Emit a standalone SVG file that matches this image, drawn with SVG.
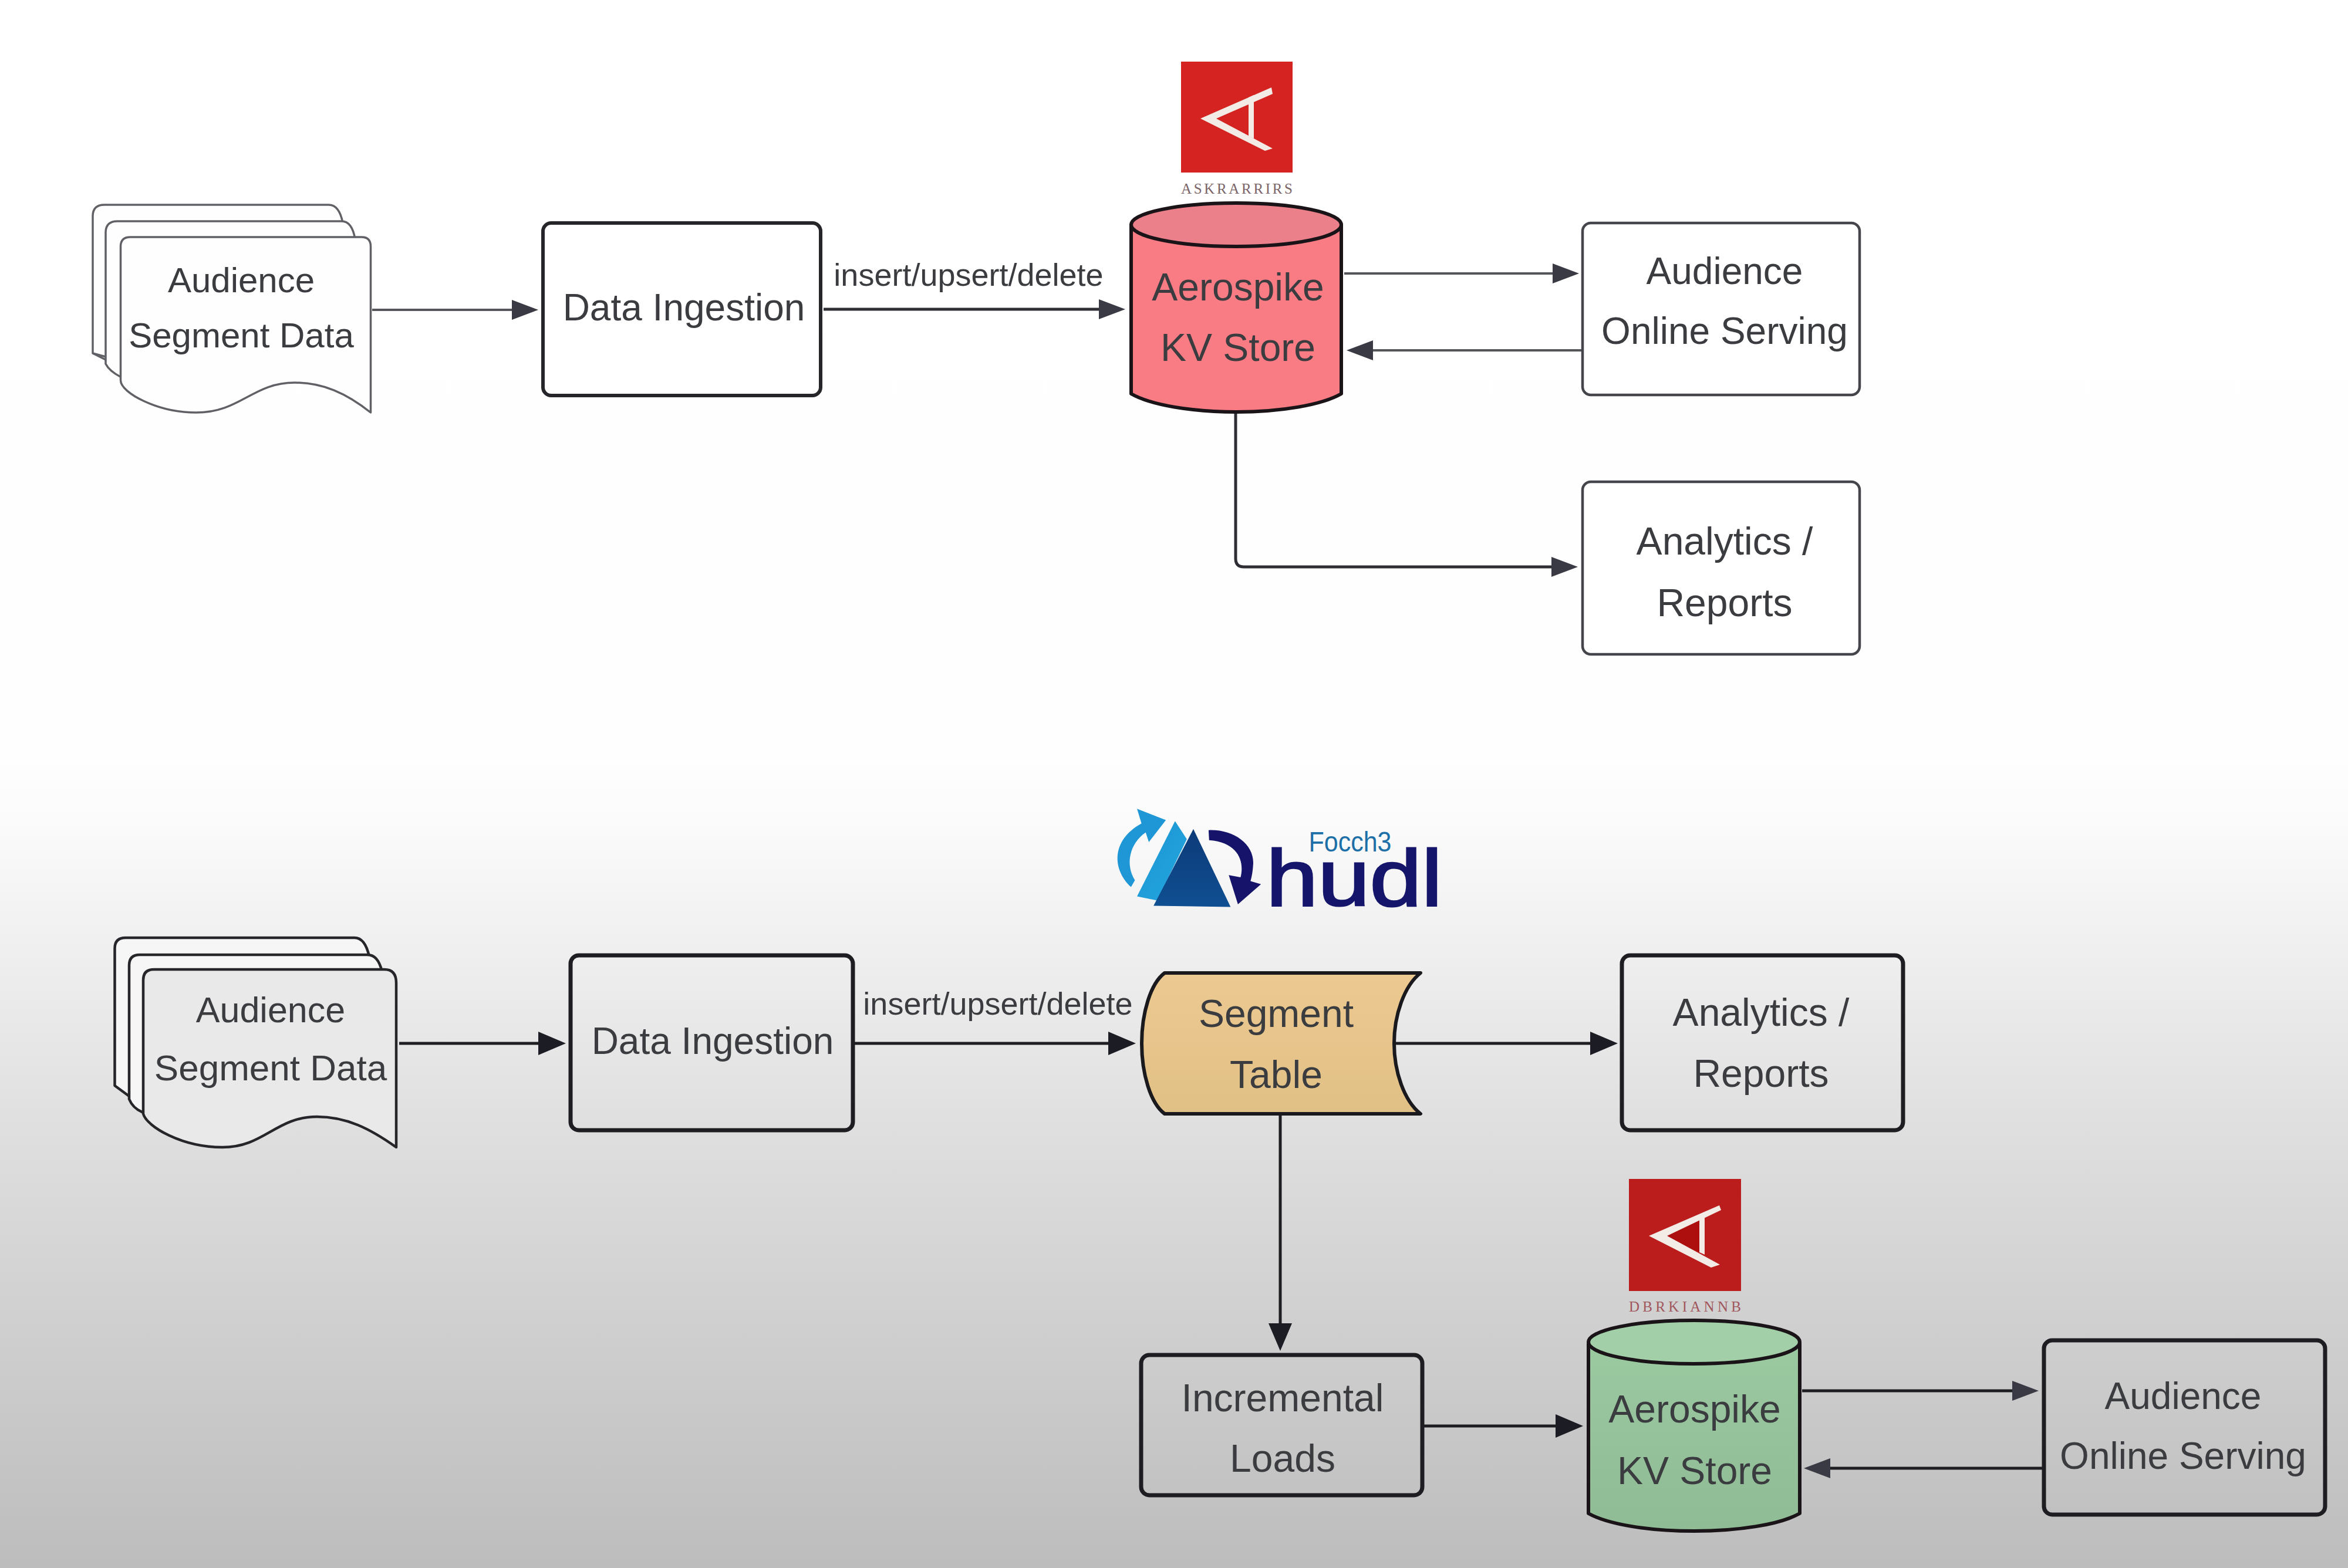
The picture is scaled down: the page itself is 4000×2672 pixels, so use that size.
<svg xmlns="http://www.w3.org/2000/svg" width="4000" height="2672" viewBox="0 0 4000 2672">
<style>
text{font-family:"Liberation Sans",Arial,sans-serif;fill:#3a3c40;text-anchor:middle}
.t60{font-size:60px}.t64{font-size:64px}.t66{font-size:66px}.lbl{font-size:54px}
.logolbl{font-size:25px;fill:#7b6468;text-anchor:start;font-family:"Liberation Serif",serif}
.box{fill:none;stroke:#1e1e22;stroke-width:7}
.boxa{fill:#fff;stroke:#26262a;stroke-width:6}
.boxb{fill:#fff;stroke:#45464b;stroke-width:4.5}
.doc{stroke:#606166;stroke-width:3.5;fill:#fefefe;stroke-linejoin:round}
.docb{stroke:#26262a;stroke-width:4.5;stroke-linejoin:round}
.cyl{stroke:#1a1418;stroke-width:6;stroke-linejoin:round}
.ca{fill:none;stroke:#55565a;stroke-width:4}
.cc{fill:none;stroke:#2e2e34;stroke-width:5}
.cb{fill:none;stroke:#1e1e22;stroke-width:5}
</style>
<defs>
<linearGradient id="bg" gradientUnits="userSpaceOnUse" x1="0" y1="0" x2="0" y2="2672">
<stop offset="0" stop-color="#ffffff"/><stop offset="0.48" stop-color="#fefefe"/><stop offset="0.524" stop-color="#fbfbfb"/><stop offset="0.6" stop-color="#f0f0f0"/><stop offset="0.711" stop-color="#e0e0e0"/><stop offset="0.823" stop-color="#d2d2d2"/><stop offset="0.973" stop-color="#c0c0c0"/><stop offset="1" stop-color="#bdbdbd"/>
</linearGradient>
<linearGradient id="tbl" x1="0" y1="0" x2="0" y2="1"><stop offset="0" stop-color="#ecc990"/><stop offset="1" stop-color="#e1c086"/></linearGradient>
<linearGradient id="grn" x1="0" y1="0" x2="0" y2="1"><stop offset="0" stop-color="#9bc9a0"/><stop offset="1" stop-color="#8fbb95"/></linearGradient>
<linearGradient id="lt" x1="0" y1="0" x2="1" y2="1"><stop offset="0" stop-color="#1d93cf"/><stop offset="1" stop-color="#22a8e2"/></linearGradient>
<linearGradient id="dk" x1="0" y1="0" x2="0" y2="1"><stop offset="0" stop-color="#0d3a78"/><stop offset="1" stop-color="#0f4f92"/></linearGradient>
<marker id="ma" markerUnits="userSpaceOnUse" markerWidth="46" markerHeight="36" refX="0" refY="18" orient="auto"><path d="M0 1 L45 18 L0 35 Z" fill="#3a3a44"/></marker>
<marker id="mb" markerUnits="userSpaceOnUse" markerWidth="48" markerHeight="42" refX="0" refY="21" orient="auto"><path d="M0 1 L47 21 L0 41 Z" fill="#1c1c24"/></marker>
</defs>
<rect width="4000" height="2672" fill="url(#bg)"/>

<g id="connectors">
<path class="ca" d="M634 528 H872" marker-end="url(#ma)"/>
<path class="cc" d="M1403 527 H1872" marker-end="url(#ma)"/>
<path class="ca" d="M2290 466 H2645" marker-end="url(#ma)"/>
<path class="ca" d="M2694 597 H2339" marker-end="url(#ma)"/>
<path class="cc" d="M2105 702 V952 Q2105 966 2119 966 H2643" marker-end="url(#ma)"/>
<path class="cb" d="M680 1778 H917" marker-end="url(#mb)"/>
<path class="cb" d="M1456 1778 H1888" marker-end="url(#mb)"/>
<path class="cb" d="M2375 1778 H2709" marker-end="url(#mb)"/>
<path class="cb" d="M2181 1898 V2255" marker-end="url(#mb)"/>
<path class="cb" d="M2425 2430 H2650" marker-end="url(#mb)"/>
<path class="cb" d="M3070 2370 H3428" marker-end="url(#ma)"/>
<path class="cb" d="M3480 2502 H3118" marker-end="url(#ma)"/>
</g>

<g id="top-audience-segment-data">
<path class="doc" d="M158 602 V368 Q158 349 178 349 H560 Q578 349 584 380 V420 H300 V640 L158 602 Z"/>
<path class="doc" d="M158 602 L180 613"/>
<path class="doc" d="M180 620 V396 Q180 377 200 377 H582 Q600 377 605 408 V450 H300 V650 L205 642 Q186 632 180 620 Z"/>
<path class="doc" d="M205.500 648 V420 Q205.500 404 222 404 H616 Q631.500 404 631.500 420 V703 C590 670 550 652 502 652 C430 652 410 703 334 703 C270 703 205.500 670 205.500 648 Z"/>
<text class="t60" x="411" y="498">Audience</text>
<text class="t60" x="411" y="592">Segment Data</text>
</g>

<g id="top-data-ingestion">
<rect class="boxa" x="925" y="380" width="473" height="294" rx="14"/>
<text class="t64" x="1165" y="546">Data Ingestion</text>
</g>

<text id="top-edge-label" class="lbl" x="1650" y="487">insert/upsert/delete</text>

<g id="top-aerospike-logo">
<rect x="2012" y="105" width="190" height="189" fill="#d42320"/>
<path fill="#f2ebe6" d="M2045 202 L2166 149 L2168 160 L2072 202 L2168 253 L2155 257 Z"/>
<path fill="#f2ebe6" d="M2127 166 L2136 162 V236 L2127 232 Z"/>
<text class="logolbl" x="2012" y="330" textLength="190" lengthAdjust="spacing">ASKRARRIRS</text>
</g>

<g id="top-aerospike-kv-store">
<path class="cyl" fill="#f97b83" d="M1927 383 V671 C1960 690 2030 702 2106 702 C2182 702 2252 690 2285 671 V383 Z"/>
<ellipse class="cyl" fill="#ec808a" cx="2106" cy="383" rx="179" ry="37"/>
<text class="t66" x="2109" y="512">Aerospike</text>
<text class="t66" x="2109" y="615">KV Store</text>
</g>

<g id="top-audience-online-serving">
<rect class="boxb" x="2696" y="380" width="472" height="293" rx="14"/>
<text class="t64" x="2938" y="484">Audience</text>
<text class="t64" x="2938" y="586">Online Serving</text>
</g>

<g id="top-analytics-reports">
<rect class="boxb" x="2696" y="821" width="472" height="294" rx="14"/>
<text class="t66" x="2938" y="945">Analytics /</text>
<text class="t66" x="2938" y="1050">Reports</text>
</g>

<g id="hudi-logo">
<g transform="translate(1850 1340) scale(0.4464 0.3827)">
<path fill="#1f97d6" d="M172 448 C100 370 95 240 212 165 L195 100 L305 150 L240 248 L228 205 C165 255 150 350 187 418 Z"/>
<path fill="url(#lt)" d="M340 155 L385 235 L272 508 L195 490 Z"/>
<path fill="url(#dk)" d="M410 190 L552 537 L258 532 Z"/>
<path fill="#15136a" d="M468 195 C565 190 645 260 638 350 C636 385 632 405 628 422 L668 436 L580 525 L545 395 L590 405 C605 340 585 250 470 240 Z"/>
</g>
<text x="2307" y="1543" font-size="136" stroke="#15166b" stroke-width="3" textLength="300" lengthAdjust="spacingAndGlyphs" style="fill:#15166b">hudl</text>
<text x="2300" y="1451" font-size="49" textLength="141" lengthAdjust="spacingAndGlyphs" style="fill:#1d6fa8">Focch3</text>
</g>

<g id="bottom-audience-segment-data">
<path class="docb" fill="#f6f6f6" d="M195.500 1850 V1616 Q195.500 1598 214 1598 H604 Q622 1598 629 1630 V1670 H300 V1890 L220 1868 L195.500 1850 Z"/>
<path class="docb" fill="#f6f6f6" d="M220 1873 V1645 Q220 1627 238 1627 H626 Q644 1627 650.600 1655 V1700 H300 V1900 L242 1895 Q226 1888 220 1873 Z"/>
<path class="docb" fill="#e9e9e9" d="M244 1898 V1670 Q244 1652 262 1652 H655 Q675 1652 675 1675 V1955 C630 1923 590 1903 540 1903 C470 1903 450 1955 379 1955 C310 1955 250 1920 244 1898 Z"/>
<text class="t60" x="461" y="1742" style="font-size:61px">Audience</text>
<text class="t60" x="461" y="1841" style="font-size:62px">Segment Data</text>
</g>

<g id="bottom-data-ingestion">
<rect class="box" x="972" y="1628" width="481" height="298" rx="14"/>
<text class="t64" x="1214" y="1796">Data Ingestion</text>
</g>

<text id="bottom-edge-label" class="lbl" x="1700" y="1729">insert/upsert/delete</text>

<g id="bottom-segment-table">
<path fill="url(#tbl)" stroke="#1a1a1e" stroke-width="6" stroke-linejoin="round" d="M1984 1658 H2420 C2392 1680 2375 1730 2375 1778 C2375 1826 2392 1876 2420 1898 H1984 C1960 1880 1945 1830 1945 1778 C1945 1726 1960 1676 1984 1658 Z"/>
<text class="t66" x="2174" y="1750">Segment</text>
<text class="t66" x="2174" y="1854">Table</text>
</g>

<g id="bottom-analytics-reports">
<rect class="box" x="2763" y="1628" width="479" height="298" rx="14"/>
<text class="t66" x="3000" y="1748">Analytics /</text>
<text class="t66" x="3000" y="1852">Reports</text>
</g>

<g id="bottom-incremental-loads">
<rect class="box" x="1944" y="2309" width="479" height="239" rx="14"/>
<text class="t66" x="2185" y="2405">Incremental</text>
<text class="t66" x="2185" y="2508">Loads</text>
</g>

<g id="bottom-aerospike-logo">
<rect x="2775" y="2009" width="191" height="191" fill="#bb1c1c"/>
<path fill="#ad0f0f" d="M2825 2106 L2898 2075 V2135 Z"/>
<path fill="#f2ebe6" d="M2809 2106 L2929 2054 L2932 2062 L2840 2106 L2930 2155 L2915 2160 Z"/>
<path fill="#f2ebe6" d="M2895 2078 L2904 2074 V2138 L2895 2134 Z"/>
<text class="logolbl" x="2775" y="2235" textLength="191" lengthAdjust="spacing" style="fill:#a0565c">DBRKIANNB</text>
</g>

<g id="bottom-aerospike-kv-store">
<path class="cyl" fill="url(#grn)" d="M2706 2290 V2579 C2740 2598 2810 2609 2886 2609 C2962 2609 3032 2598 3066 2579 V2290 Z"/>
<ellipse class="cyl" fill="#a2cfa8" cx="2886" cy="2287" rx="180" ry="37"/>
<text class="t66" x="2887" y="2424">Aerospike</text>
<text class="t66" x="2887" y="2529">KV Store</text>
</g>

<g id="bottom-audience-online-serving">
<rect class="box" x="3482" y="2284" width="479" height="297" rx="14"/>
<text class="t64" x="3719" y="2401">Audience</text>
<text class="t64" x="3719" y="2503">Online Serving</text>
</g>
</svg>
